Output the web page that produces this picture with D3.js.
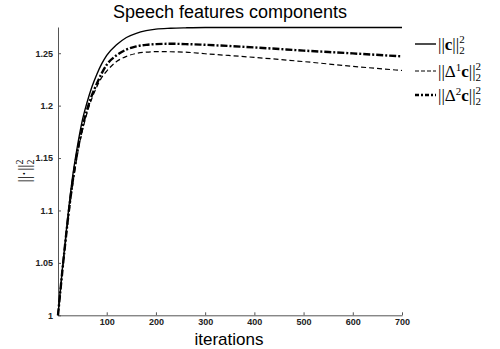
<!DOCTYPE html>
<html>
<head>
<meta charset="utf-8">
<script src="https://cdn.jsdelivr.net/npm/d3@7"></script>
<style>
  body { margin: 0; background: #fff; }
  .tick text { font-family: "Liberation Sans", Arial, sans-serif; font-weight: bold; font-size: 9px; fill: #222; }
  .math { font-family: "Liberation Serif", "DejaVu Serif", serif; fill: #000; }
</style>
</head>
<body>
<div id="chart"></div>
<script>
var svgWidth = 500;
var svgHeight = 349;

var iterations = [1, 10, 20, 30, 40, 50, 60, 70, 80, 90, 100, 120, 140, 160, 180, 200, 230, 260, 300, 400, 500, 600, 700];

var normC = [1.0, 1.045, 1.09, 1.13, 1.16, 1.185, 1.203, 1.218, 1.23, 1.24, 1.248, 1.258, 1.265, 1.269, 1.2715, 1.273, 1.2738, 1.2742, 1.2745, 1.2745, 1.2745, 1.2745, 1.2745];
var normD1 = [1.0, 1.042, 1.085, 1.122, 1.152, 1.175, 1.193, 1.207, 1.218, 1.227, 1.233, 1.242, 1.247, 1.2498, 1.251, 1.2515, 1.2514, 1.251, 1.2495, 1.246, 1.242, 1.2375, 1.2335];
var normD2 = [1.0, 1.043, 1.087, 1.125, 1.155, 1.178, 1.196, 1.21, 1.221, 1.231, 1.239, 1.248, 1.2535, 1.2565, 1.258, 1.2587, 1.259, 1.2587, 1.258, 1.2555, 1.2525, 1.2498, 1.247];

var xTicks = [100, 200, 300, 400, 500, 600, 700];
var yTicks = [1, 1.05, 1.1, 1.15, 1.2, 1.25];

var svg = d3.select("#chart")
  .append("svg")
  .attr("width", svgWidth)
  .attr("height", svgHeight);

var xScale = d3.scaleLinear().domain([1, 700]).range([58, 402]);
var yScale = d3.scaleLinear().domain([1, 1.275]).range([315.3, 27]);

// axes (ticks pointing inward, no box)
var bottomAxis = d3.axisBottom(xScale).tickValues(xTicks).tickSizeInner(-3).tickSizeOuter(0).tickPadding(5);
var leftAxis = d3.axisLeft(yScale).tickValues(yTicks).tickSizeInner(-3).tickSizeOuter(0).tickPadding(5)
  .tickFormat(d3.format("~g"));

var xAxis = svg.append("g")
  .attr("transform", `translate(0, ${yScale(1)})`)
  .call(bottomAxis);
var yAxis = svg.append("g")
  .attr("transform", `translate(${xScale(1)}, 0)`)
  .call(leftAxis);

svg.selectAll(".domain, .tick line").attr("stroke", "#555").attr("stroke-width", 1);
xAxis.selectAll(".tick text").attr("dy", "0.55em");

// series
var series = [
  { values: normC, dash: null, width: 1.4 },
  { values: normD1, dash: "5,3", width: 1.2 },
  { values: normD2, dash: "7,2,2,2", width: 2.4 }
];

var line = d3.line()
  .x(d => xScale(d[0]))
  .y(d => yScale(d[1]))
  .curve(d3.curveMonotoneX);

series.forEach(function(s) {
  svg.append("path")
    .datum(iterations.map((it, i) => [it, s.values[i]]))
    .attr("fill", "none")
    .attr("stroke", "#000")
    .attr("stroke-width", s.width)
    .attr("stroke-dasharray", s.dash)
    .attr("d", line);
});

// title and axis label
svg.append("text")
  .attr("x", 230)
  .attr("y", 18)
  .attr("text-anchor", "middle")
  .style("font-family", "Liberation Sans, Arial, sans-serif")
  .style("font-size", "18px")
  .text("Speech features components");

svg.append("text")
  .attr("x", 229)
  .attr("y", 345)
  .attr("text-anchor", "middle")
  .style("font-family", "Liberation Sans, Arial, sans-serif")
  .style("font-size", "17px")
  .text("iterations");

// y label: ||·||_2^2
var ylab = svg.append("text")
  .attr("class", "math")
  .attr("transform", "translate(30, 171) rotate(-90)")
  .attr("text-anchor", "middle")
  .style("font-size", "16px");
ylab.append("tspan").text("||·||");
ylab.append("tspan").attr("dy", 4).style("font-size", "10px").text("2");
ylab.append("tspan").attr("dx", -5).attr("dy", -11).style("font-size", "10px").text("2");

// legend
var legendY = [44, 71, 95];
var legendDelta = ["", "1", "2"];
series.forEach(function(s, i) {
  svg.append("line")
    .attr("x1", 415).attr("x2", 436)
    .attr("y1", legendY[i]).attr("y2", legendY[i])
    .attr("stroke", "#000")
    .attr("stroke-width", s.width)
    .attr("stroke-dasharray", i == 2 ? "4,2,2,2" : (i == 1 ? "4,2" : null));

  var t = svg.append("text")
    .attr("class", "math")
    .attr("x", 438)
    .attr("y", legendY[i] + 6)
    .style("font-size", "17px");
  t.append("tspan").text("||");
  if (legendDelta[i]) {
    t.append("tspan").text("Δ");
    t.append("tspan").attr("dy", -6).style("font-size", "11px").text(legendDelta[i]);
    t.append("tspan").attr("dy", 6).style("font-weight", "bold").text("c");
  } else {
    t.append("tspan").style("font-weight", "bold").text("c");
  }
  t.append("tspan").text("||");
  t.append("tspan").attr("dy", 4).style("font-size", "11px").text("2");
  t.append("tspan").attr("dx", -5.5).attr("dy", -11).style("font-size", "11px").text("2");
});
</script>
</body>
</html>
